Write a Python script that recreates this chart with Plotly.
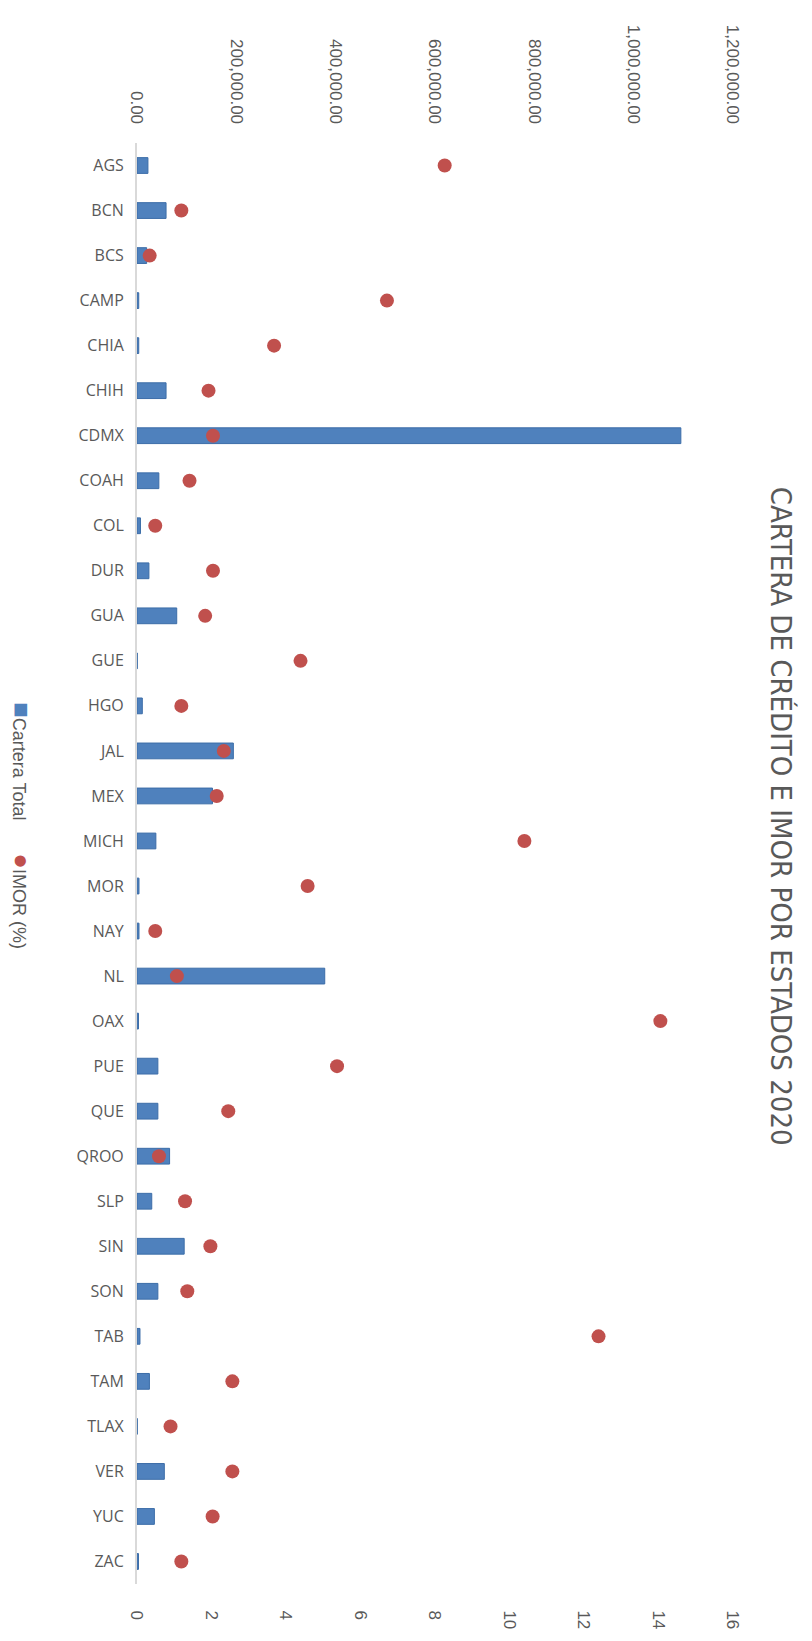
import plotly.graph_objects as go

# Estados (categorías)
estados = ["AGS", "BCN", "BCS", "CAMP", "CHIA", "CHIH", "CDMX", "COAH", "COL", "DUR",
           "GUA", "GUE", "HGO", "JAL", "MEX", "MICH", "MOR", "NAY", "NL", "OAX",
           "PUE", "QUE", "QROO", "SLP", "SIN", "SON", "TAB", "TAM", "TLAX", "VER",
           "YUC", "ZAC"]

# Cartera total por estado (pesos)
cartera_total = [22000, 58500, 19500, 3500, 3500, 58500, 1095000, 44000, 7000, 24000,
                 80000, 500, 10700, 194000, 152000, 38000, 4000, 4000, 378000, 3000,
                 42000, 42000, 65600, 29700, 95000, 42000, 6000, 25000, 500, 55000,
                 35000, 3000]

# IMOR por estado (%)
imor = [8.26, 1.19, 0.34, 6.71, 3.68, 1.92, 2.04, 1.41, 0.49, 2.04,
        1.83, 4.39, 1.19, 2.33, 2.14, 10.40, 4.58, 0.49, 1.07, 14.05,
        5.37, 2.45, 0.59, 1.29, 1.97, 1.35, 12.39, 2.56, 0.90, 2.56,
        2.03, 1.19]

# etiquetas de los ejes
cartera_ticks = [0, 200000, 400000, 600000, 800000, 1000000, 1200000]
imor_ticks = [0, 2, 4, 6, 8, 10, 12, 14, 16]

n = len(estados)

AZUL = "#4F81BD"
ROJO = "#C0504D"
GRIS = "#595959"
FUENTE = "Liberation Sans, Arial, sans-serif"

# posición del área de trazado (px)
L, R, T, B = 137, 79, 143, 48
W, H = 812, 1641
PW, PH = W - L - R, H - T - B

fig = go.Figure()

fig.add_trace(go.Bar(
    x=cartera_total, y=estados, orientation="h",
    name="Cartera Total",
    marker=dict(color=AZUL, line=dict(color="#3C6DA8", width=1)),
    width=0.35,
    xaxis="x", yaxis="y",
    showlegend=False,
))

fig.add_trace(go.Scatter(
    x=imor, y=estados, mode="markers",
    name="IMOR (%)",
    marker=dict(color=ROJO, size=14, symbol="circle"),
    xaxis="x2", yaxis="y",
    showlegend=False,
))

fig.update_layout(
    width=W, height=H,
    margin=dict(l=L, r=R, t=T, b=B),
    paper_bgcolor="white", plot_bgcolor="white",
    xaxis=dict(
        side="top", range=[0, 1200000],
        tickvals=cartera_ticks,
        ticktext=[f"{v:,.2f}" for v in cartera_ticks],
        tickangle=90,
        tickfont=dict(family=FUENTE, size=17, color=GRIS),
        showgrid=False, zeroline=False, showline=False,
        ticks="outside", ticklen=12, tickcolor="rgba(0,0,0,0)",
    ),
    xaxis2=dict(
        overlaying="x", side="bottom", anchor="y",
        range=[0, 16],
        tickvals=imor_ticks,
        ticktext=[str(v) for v in imor_ticks],
        tickangle=90,
        tickfont=dict(family=FUENTE, size=17, color=GRIS),
        showgrid=False, zeroline=False, showline=False,
        ticks="outside", ticklen=22, tickcolor="rgba(0,0,0,0)",
    ),
    yaxis=dict(
        type="category", range=[n - 0.5, -0.5],
        categoryorder="array", categoryarray=estados,
        showline=True, linecolor="#D9D9D9", linewidth=2,
        showgrid=False, zeroline=False,
        tickfont=dict(family="Open Sans, Noto Sans, sans-serif", size=16, color=GRIS),
        ticks="outside", ticklen=8, tickcolor="rgba(0,0,0,0)",
    ),
)

# Título vertical
fig.add_annotation(
    text="CARTERA DE CRÉDITO E IMOR POR ESTADOS 2020",
    xref="paper", yref="paper",
    x=(781 - L) / PW, y=(H - B - 820) / PH,
    xanchor="center", yanchor="middle",
    textangle=90, showarrow=False,
    font=dict(family="Liberation Sans Narrow, DejaVu Sans Condensed, sans-serif", size=29, color=GRIS),
)

# Leyenda vertical
leyenda = [
    (f'<span style="color:{AZUL};font-size:26px">■</span>Cartera Total', 765),
    (f'<span style="color:{ROJO};font-size:26px">●</span>IMOR (%)', 906),
]
for texto, ypx in leyenda:
    fig.add_annotation(
        text=texto, xref="paper", yref="paper",
        x=(22 - L) / PW, y=(H - B - ypx) / PH,
        xanchor="center", yanchor="middle",
        textangle=90, showarrow=False,
        font=dict(family=FUENTE, size=18, color=GRIS),
    )

fig.write_html("out.html")
